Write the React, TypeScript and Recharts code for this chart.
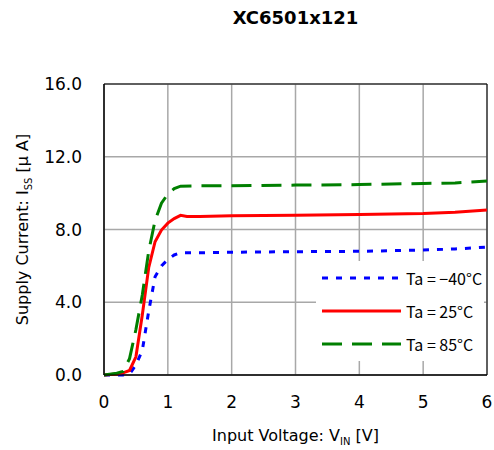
import React from 'react';
import { LineChart, Line, XAxis, YAxis, CartesianGrid, ReferenceArea, Label } from 'recharts';

const FONT = '"DejaVu Sans", "Liberation Sans", sans-serif';
const LEGEND_FONT = '"Noto Sans CJK JP", "DejaVu Sans", sans-serif';

// Ta = -40C
const vinM40 = [0, 0.3, 0.4, 0.5, 0.6, 0.7, 0.8, 0.9, 1.0, 1.1, 1.2, 1.5, 2, 3, 4, 5, 5.5, 6];
const issM40 = [0, 0, 0.05, 0.55, 1.35, 3.5, 5.4, 6.0, 6.35, 6.6, 6.72, 6.72, 6.75, 6.78, 6.8, 6.87, 6.93, 7.03];

// Ta = 25C
const vin25 = [0, 0.2, 0.3, 0.4, 0.5, 0.6, 0.7, 0.8, 0.9, 1.0, 1.1, 1.2, 1.3, 1.5, 2, 3, 4, 5, 5.5, 6];
const iss25 = [0, 0.05, 0.12, 0.25, 1.0, 3.3, 5.9, 7.33, 7.97, 8.35, 8.6, 8.78, 8.72, 8.72, 8.75, 8.79, 8.82, 8.88, 8.95, 9.07];

// Ta = 85C
const vin85 = [0, 0.2, 0.3, 0.4, 0.5, 0.6, 0.7, 0.8, 0.9, 1.0, 1.1, 1.2, 1.5, 2, 3, 4, 5, 5.5, 6];
const iss85 = [0, 0.1, 0.2, 0.9, 2.5, 4.4, 6.8, 8.5, 9.45, 9.95, 10.25, 10.38, 10.4, 10.4, 10.44, 10.47, 10.53, 10.56, 10.66];

const xTicks = [0, 1, 2, 3, 4, 5, 6];
const yTicks = [0, 4, 8, 12, 16];

const series = [
  { name: 'Ta = −40°C', color: '#0000ff', dash: '6 8', vin: vinM40, iss: issM40 },
  { name: 'Ta = 25°C', color: '#ff0000', dash: undefined, vin: vin25, iss: iss25 },
  { name: 'Ta = 85°C', color: '#007f00', dash: '20 10', vin: vin85, iss: iss85 },
];

const toPoints = (vin: number[], iss: number[]) => vin.map((v, i) => ({ vin: v, iss: iss[i] }));

const LegendBox = () => (
  <div
    style={{
      position: 'absolute',
      left: 316,
      top: 261,
      width: 168,
      height: 100,
      background: '#fff',
      fontFamily: LEGEND_FONT,
      fontSize: 16,
      color: '#000',
    }}
  >
    {series.map((s) => (
      <div key={s.name} style={{ display: 'flex', alignItems: 'center', height: 33 }}>
        <svg width={84} height={10} style={{ marginLeft: 6, flexShrink: 0 }}>
          <line x1={0} y1={5} x2={79} y2={5} stroke={s.color} strokeWidth={3} strokeDasharray={s.dash} />
        </svg>
        <span style={{ whiteSpace: 'nowrap' }}>{s.name}</span>
      </div>
    ))}
  </div>
);

const XLabel = (props: any) => {
  const { viewBox } = props;
  const cx = viewBox.x + viewBox.width / 2;
  return (
    <text x={cx} y={viewBox.y + 66} textAnchor="middle" fontFamily={FONT} fontSize={16} fill="#000">
      Input Voltage: V
      <tspan fontSize={10} dy={4}>IN</tspan>
      <tspan dy={-4}> [V]</tspan>
    </text>
  );
};

const YLabel = (props: any) => {
  const { viewBox } = props;
  const cy = viewBox.y + viewBox.height / 2;
  const x = 28;
  return (
    <text x={x} y={cy} transform={`rotate(-90 ${x} ${cy})`} textAnchor="middle" fontFamily={FONT} fontSize={16} fill="#000">
      Supply Current: I
      <tspan fontSize={10} dy={4}>SS</tspan>
      <tspan dy={-4}> [μ A]</tspan>
    </text>
  );
};

export default function App() {
  return (
    <div style={{ position: 'absolute', left: 0, top: 0, width: 494, height: 450, background: '#fff' }}>
      <div
        style={{
          position: 'absolute',
          left: 104,
          width: 383,
          top: 7,
          textAlign: 'center',
          fontFamily: FONT,
          fontWeight: 'bold',
          fontSize: 18,
        }}
      >
        XC6501x121
      </div>
      <LineChart width={494} height={450} margin={{ top: 84, right: 7, bottom: 45, left: 44 }}>
        <CartesianGrid stroke="#a8a8a8" strokeWidth={1.5} />
        <XAxis
          dataKey="vin"
          type="number"
          domain={[0, 6]}
          ticks={xTicks}
          allowDuplicatedCategory={false}
          tickLine={false}
          axisLine={{ stroke: '#000' }}
          tick={{ fontFamily: FONT, fontSize: 17, fill: '#000' }}
          tickMargin={15}
          height={30}
        >
          <Label content={<XLabel />} />
        </XAxis>
        <YAxis
          type="number"
          domain={[0, 16]}
          ticks={yTicks}
          tickFormatter={(v: number) => v.toFixed(1)}
          tickLine={false}
          axisLine={{ stroke: '#000' }}
          tick={{ fontFamily: FONT, fontSize: 17, fill: '#000' }}
          tickMargin={16}
          width={60}
        >
          <Label content={<YLabel />} />
        </YAxis>
        <ReferenceArea x1={0} x2={6} y1={0} y2={16} fill="none" stroke="#000" strokeWidth={1} ifOverflow="visible" />
        {series.map((s) => (
          <Line
            key={s.name}
            data={toPoints(s.vin, s.iss)}
            dataKey="iss"
            name={s.name}
            type="linear"
            stroke={s.color}
            strokeWidth={3}
            strokeDasharray={s.dash}
            dot={false}
            isAnimationActive={false}
          />
        ))}
      </LineChart>
      <LegendBox />
    </div>
  );
}
